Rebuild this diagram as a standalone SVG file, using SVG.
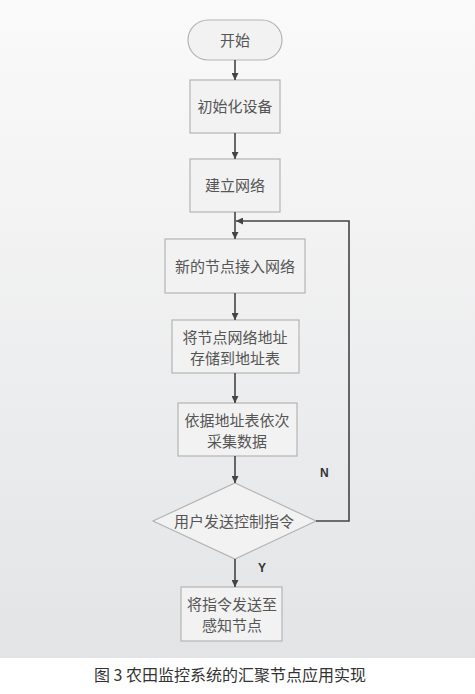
<svg xmlns="http://www.w3.org/2000/svg" width="475" height="694" viewBox="0 0 475 694">
<defs>
<linearGradient id="bg" x1="0" y1="0" x2="0" y2="1">
<stop offset="0" stop-color="#fafafa"/>
<stop offset="1" stop-color="#e3e4e6"/>
</linearGradient>
<marker id="ah" viewBox="0 0 10 10" refX="10" refY="5" markerWidth="7" markerHeight="7" markerUnits="userSpaceOnUse" orient="auto">
<path d="M0,0 L10,5 L0,10 z" fill="#444"/>
</marker>
<style>
.box{fill:#f2f2f2;stroke:#b4b4b4;stroke-width:1.2}
.t{font-family:"Noto Sans CJK SC","Noto Sans",sans-serif;font-size:15px;fill:#555;text-anchor:middle}
.c{stroke:#444;stroke-width:1.6;fill:none;marker-end:url(#ah)}
.lbl{font-family:"Liberation Sans",Arial,sans-serif;font-size:12px;font-weight:bold;fill:#333}
</style>
</defs>
<rect x="0" y="0" width="475" height="658" fill="url(#bg)"/>
<rect x="0" y="658" width="475" height="36" fill="#fff"/>
<g id="start"><rect class="box" x="188" y="20" width="94" height="40" rx="20"/><text class="t" x="235" y="46">开始</text></g>
<g id="init"><rect class="box" x="190" y="80" width="90" height="53"/><text class="t" x="235" y="112">初始化设备</text></g>
<g id="net"><rect class="box" x="190" y="159" width="90" height="53"/><text class="t" x="235" y="191">建立网络</text></g>
<g id="join"><rect class="box" x="165" y="239" width="140" height="54"/><text class="t" x="235" y="272">新的节点接入网络</text></g>
<g id="store"><rect class="box" x="172" y="320" width="127" height="53"/><text class="t" x="235" y="343">将节点网络地址</text><text class="t" x="235" y="364">存储到地址表</text></g>
<g id="collect"><rect class="box" x="178" y="403" width="119" height="53"/><text class="t" x="237" y="426">依据地址表依次</text><text class="t" x="237" y="447">采集数据</text></g>
<g id="decide"><polygon class="box" points="235,483 316,521 235,559 153,521"/><text class="t" x="234" y="527">用户发送控制指令</text></g>
<g id="send"><rect class="box" x="181" y="587" width="101" height="54"/><text class="t" x="232" y="610">将指令发送至</text><text class="t" x="232" y="631">感知节点</text></g>
<g id="connectors">
<line class="c" x1="235" y1="60" x2="235" y2="80"/>
<line class="c" x1="235" y1="133" x2="235" y2="159"/>
<line class="c" x1="235" y1="212" x2="235" y2="239"/>
<line class="c" x1="235" y1="293" x2="235" y2="320"/>
<line class="c" x1="235" y1="373" x2="235" y2="403"/>
<line class="c" x1="235" y1="456" x2="235" y2="483"/>
<line class="c" x1="235" y1="559" x2="235" y2="587"/>
<polyline class="c" points="316,521 349,521 349,221 236,221"/>
<text class="lbl" x="320" y="477">N</text>
<text class="lbl" x="258" y="572">Y</text>
</g>
<text x="230" y="681" font-family="'Noto Sans CJK SC','Noto Sans',sans-serif" font-size="16" fill="#333" text-anchor="middle">图 3 农田监控系统的汇聚节点应用实现</text>
</svg>
